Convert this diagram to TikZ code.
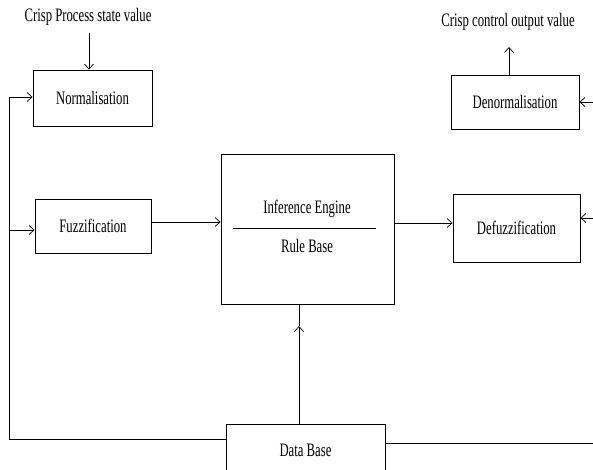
\documentclass[tikz,border=0pt]{standalone}
\usepackage{fontspec}
\setmainfont{Liberation Serif}[FakeStretch=0.67]
\usetikzlibrary{arrows.meta}
\begin{document}
\begin{tikzpicture}[x=1pt,y=-1pt,
  box/.style={draw,line width=0.9pt,minimum width=#1,inner sep=0pt},
  lbl/.style={font=\fontsize{19}{19}\selectfont,inner sep=0pt},
  wire/.style={line width=0.8pt},
  arr/.style={wire,-{Straight Barb[length=5pt,width=9pt,line width=0.7pt]}}]
\useasboundingbox (0,0) rectangle (593,470);
\clip (0,0) rectangle (593,470);
% boxes
\node[box=119pt,minimum height=56pt,lbl] (norm) at (92.5,98) {Normalisation};
\node[box=116pt,minimum height=54pt,lbl] (fuzz) at (93,226) {Fuzzification};
\node[box=173pt,minimum height=150pt] (inf) at (307.5,229) {};
\node[box=127pt,minimum height=68pt,lbl] (defuzz) at (516.5,228) {Defuzzification};
\node[box=128pt,minimum height=54pt,lbl] (denorm) at (515,102) {Denormalisation};
\node[box=159pt,minimum height=56pt,lbl] (db) at (305.5,452) {\raisebox{4pt}{Data Base}};
% inner texts of inference box
\node[lbl] (ie) at (307,209) {Inference Engine};
\node[lbl] (rb) at (307,246) {Rule Base};
\coordinate (sepl) at (233,228);
\coordinate (sepr) at (376,228);
\draw[wire] (sepl) -- (sepr);
% input / output labels
\node[lbl] (cin) at (88,17) {Crisp Process state value};
\node[lbl] (cout) at (508,22) {Crisp control output value};
\coordinate (cinA) at (89,33);
\draw[arr] (cinA) -- (cinA |- norm.north);
\coordinate (coutA) at (509,47);
\draw[arr] (coutA |- denorm.north) -- (coutA);
% left feedback loop
\coordinate (lb) at (9,439);
\coordinate (lt) at (9,97);
\coordinate (lf) at (9,230);
\draw[wire] (db.west |- lb) -- (lb) -- (lt);
\draw[arr] (lt) -- (lt -| norm.west);
\draw[arr] (lf) -- (lf -| fuzz.west);
% main chain
\coordinate (fy) at (0,222);
\draw[arr] (fuzz.east |- fy) -- (inf.west |- fy);
\coordinate (dy) at (0,223);
\draw[arr] (inf.east |- dy) -- (defuzz.west |- dy);
% data base to inference engine
\coordinate (dbx) at (299,326);
\draw[arr] (dbx |- db.north) -- (dbx);
\draw[wire] (dbx) -- (dbx |- inf.south);
% right side
\coordinate (rb1) at (593,443);
\draw[wire] (db.east |- rb1) -- (rb1);
\coordinate (rd) at (593,102);
\draw[arr] (rd) -- (rd -| denorm.east);
\coordinate (rf) at (593,218);
\draw[arr] (rf) -- (rf -| defuzz.east);
\end{tikzpicture}
\end{document}
